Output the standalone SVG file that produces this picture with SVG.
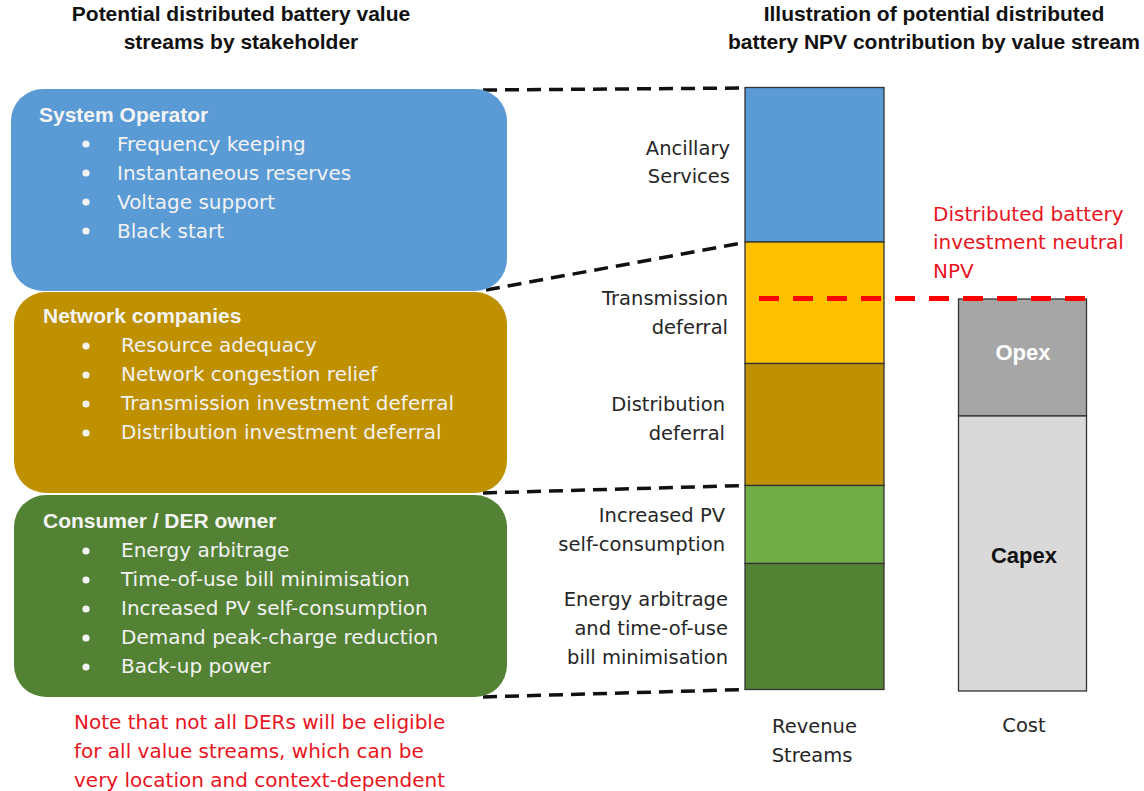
<svg xmlns="http://www.w3.org/2000/svg" width="1144" height="791" viewBox="0 0 1144 791">
<style>
.title{font-family:"Liberation Sans",Arial,sans-serif;font-weight:bold;font-size:21px;fill:#111;text-anchor:middle}
.hdr{font-family:"Liberation Sans",Arial,sans-serif;font-weight:bold;font-size:21px;fill:#f4f4f4}
.item{font-family:"DejaVu Sans",sans-serif;font-size:20px;fill:#f2f2f2}
.lbl{font-family:"DejaVu Sans",sans-serif;font-size:19.5px;fill:#262626;text-anchor:end}
.axis{font-family:"DejaVu Sans",sans-serif;font-size:19.5px;fill:#262626;text-anchor:middle}
.red{font-family:"DejaVu Sans",sans-serif;font-size:20px;fill:#e8141e}
.seg{stroke:#333;stroke-width:1.3}
.big{font-family:"Liberation Sans",Arial,sans-serif;font-weight:bold;font-size:22px;text-anchor:middle}
.conn{fill:none;stroke:#111;stroke-width:3.5;stroke-dasharray:14 8}
.bul{fill:#f2f2f2}
</style>
<rect width="1144" height="791" fill="#fff"/>
<g id="titles">
<text class="title" x="241" y="21">Potential distributed battery value</text>
<text class="title" x="241" y="49">streams by stakeholder</text>
<text class="title" x="934" y="21">Illustration of potential distributed</text>
<text class="title" x="934" y="49">battery NPV contribution by value stream</text>
</g>
<g id="connectors">
<path class="conn" d="M483 90 L745 88"/>
<path class="conn" d="M486 290 L745 242.5"/>
<path class="conn" d="M483 493 L745 485.5"/>
<path class="conn" d="M483 697 L745 689.5"/>
</g>
<g id="system-operator">
<rect x="11" y="89" width="496" height="202" rx="32" fill="#5b9bd5"/>
<text class="hdr" x="39" y="122">System Operator</text>
<circle class="bul" cx="86" cy="144" r="3.6"/><text class="item" x="117" y="151">Frequency keeping</text>
<circle class="bul" cx="86" cy="173" r="3.6"/><text class="item" x="117" y="180">Instantaneous reserves</text>
<circle class="bul" cx="86" cy="202" r="3.6"/><text class="item" x="117" y="209">Voltage support</text>
<circle class="bul" cx="86" cy="231" r="3.6"/><text class="item" x="117" y="238">Black start</text>
</g>
<g id="network-companies">
<rect x="14" y="292" width="493" height="201" rx="32" fill="#bf9000"/>
<text class="hdr" x="43" y="323">Network companies</text>
<circle class="bul" cx="86" cy="346" r="3.6"/><text class="item" x="121" y="352">Resource adequacy</text>
<circle class="bul" cx="86" cy="375" r="3.6"/><text class="item" x="121" y="381">Network congestion relief</text>
<circle class="bul" cx="86" cy="404" r="3.6"/><text class="item" x="121" y="410">Transmission investment deferral</text>
<circle class="bul" cx="86" cy="433" r="3.6"/><text class="item" x="121" y="439">Distribution investment deferral</text>
</g>
<g id="consumer">
<rect x="14" y="495" width="493" height="202" rx="32" fill="#548235"/>
<text class="hdr" x="43" y="528">Consumer / DER owner</text>
<circle class="bul" cx="86" cy="551" r="3.6"/><text class="item" x="121" y="557">Energy arbitrage</text>
<circle class="bul" cx="86" cy="580" r="3.6"/><text class="item" x="121" y="586">Time-of-use bill minimisation</text>
<circle class="bul" cx="86" cy="609" r="3.6"/><text class="item" x="121" y="615">Increased PV self-consumption</text>
<circle class="bul" cx="86" cy="638" r="3.6"/><text class="item" x="121" y="644">Demand peak-charge reduction</text>
<circle class="bul" cx="86" cy="667" r="3.6"/><text class="item" x="121" y="673">Back-up power</text>
</g>
<g id="note">
<text class="red" x="74" y="729">Note that not all DERs will be eligible</text>
<text class="red" x="74" y="758">for all value streams, which can be</text>
<text class="red" x="74" y="787">very location and context-dependent</text>
</g>
<g id="revenue-bar">
<rect class="seg" x="745" y="87.5" width="139" height="154.5" fill="#5b9bd5"/>
<rect class="seg" x="745" y="242" width="139" height="121.5" fill="#ffc000"/>
<rect class="seg" x="745" y="363.5" width="139" height="122" fill="#bf9000"/>
<rect class="seg" x="745" y="485.5" width="139" height="78" fill="#70ad47"/>
<rect class="seg" x="745" y="563.5" width="139" height="126" fill="#548235"/>
</g>
<g id="revenue-labels">
<text class="lbl" x="730" y="155">Ancillary</text>
<text class="lbl" x="730" y="183">Services</text>
<text class="lbl" x="728" y="305">Transmission</text>
<text class="lbl" x="728" y="334">deferral</text>
<text class="lbl" x="725" y="411">Distribution</text>
<text class="lbl" x="725" y="440">deferral</text>
<text class="lbl" x="725" y="522">Increased PV</text>
<text class="lbl" x="725" y="551">self-consumption</text>
<text class="lbl" x="728" y="606">Energy arbitrage</text>
<text class="lbl" x="728" y="635">and time-of-use</text>
<text class="lbl" x="728" y="664">bill minimisation</text>
<text class="axis" x="814.5" y="733">Revenue</text>
<text class="axis" x="812" y="762">Streams</text>
</g>
<g id="cost-bar">
<rect class="seg" x="958.5" y="299" width="128" height="117" fill="#a6a6a6"/>
<rect class="seg" x="958.5" y="416" width="128" height="275" fill="#d9d9d9"/>
<text class="big" x="1023" y="360" fill="#fff">Opex</text>
<text class="big" x="1024" y="563" fill="#111">Capex</text>
<text class="axis" x="1024" y="732">Cost</text>
</g>
<g id="npv-line">
<path d="M759 298.5 L1088 298.5" fill="none" stroke="#ff0000" stroke-width="5" stroke-dasharray="20 14"/>
<text class="red" x="933" y="221">Distributed battery</text>
<text class="red" x="933" y="249">investment neutral</text>
<text class="red" x="933" y="278">NPV</text>
</g>
</svg>
